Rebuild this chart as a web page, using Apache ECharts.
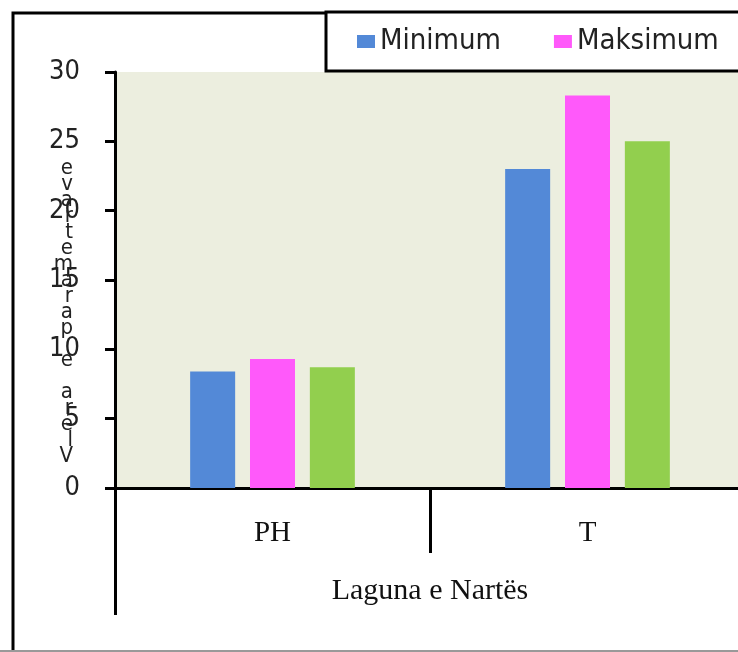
<!DOCTYPE html>
<html>
<head>
<meta charset="utf-8">
<script src="https://cdn.jsdelivr.net/npm/echarts@6/dist/echarts.min.js"></script>
<style>
html,body{margin:0;padding:0;background:#fff;overflow:hidden;width:738px;height:652px;}
#c{width:1000px;height:652px;}
</style>
</head>
<body>
<div id="c"></div>
<script>
var categories = ['PH', 'T'];
var groupLabel = ['Laguna e Nartës'];
var seriesNames = ['Minimum', 'Maksimum', 'Mesatare'];
var minimum = [8.4, 23.0];
var maksimum = [9.3, 28.3];
var mesatare = [8.7, 25.0];
var yMin = 0, yMax = 30, yStep = 5;
var yTitle = 'Vlera e parametrave';
var colors = ['#5389D7', '#FF59FA', '#92CF4E'];

var chart = echarts.init(document.getElementById('c'), null, {renderer: 'canvas'});
var tickFont = 'DejaVu Sans Condensed, Liberation Sans Narrow, DejaVu Sans, sans-serif';
var serifFont = 'Liberation Serif, DejaVu Serif, serif';
var values = [minimum, maksimum, mesatare];

chart.setOption({
  animation: false,
  color: colors,
  graphic: [
    {type: 'rect', z: -1, shape: {x: 13, y: 13, width: 1200, height: 800},
     style: {fill: 'none', stroke: '#000', lineWidth: 3}},
    {type: 'line', z: -1, shape: {x1: 0, y1: 651, x2: 1000, y2: 651},
     style: {stroke: '#999', lineWidth: 2}}
  ],
  legend: {
    left: 326, top: 12,
    padding: [15, 20, 15, 31],
    borderColor: '#000', borderWidth: 3,
    backgroundColor: '#fff',
    itemWidth: 18, itemHeight: 13, itemGap: 53,
    icon: 'rect',
    textStyle: {fontFamily: tickFont, fontSize: 29, color: '#222'},
    data: seriesNames
  },
  grid: {left: 115, right: 255, top: 72, bottom: 164, show: true,
         backgroundColor: '#ECEEDF', borderWidth: 0, containLabel: false},
  xAxis: [
    {type: 'category', data: categories, position: 'bottom',
     axisLine: {show: true, lineStyle: {color: '#000', width: 3}},
     axisTick: {show: true, interval: 0, length: 65, lineStyle: {color: '#000', width: 3}},
     axisLabel: {margin: 31, fontFamily: serifFont, fontSize: 29, color: '#111'}},
    {type: 'category', data: groupLabel, position: 'bottom',
     axisLine: {show: false},
     axisTick: {show: true, interval: 0, length: 127, lineStyle: {color: '#000', width: 3}},
     axisLabel: {margin: 88, fontFamily: serifFont, fontSize: 30, color: '#111'}}
  ],
  yAxis: {
    type: 'value', min: yMin, max: yMax, interval: yStep,
    name: '\n\n\n\n' + yTitle.split('').reverse().join('\n'),
    nameLocation: 'middle', nameRotate: 0, nameGap: 42, nameMoveOverlap: false,
    nameTextStyle: {fontFamily: tickFont, fontSize: 22, lineHeight: 16, color: '#222'},
    axisLine: {show: true, lineStyle: {color: '#000', width: 3}},
    axisTick: {show: true, length: 10, lineStyle: {color: '#000', width: 3}},
    splitLine: {show: false},
    axisLabel: {margin: 35, fontFamily: tickFont, fontSize: 27, color: '#222'}
  },
  series: seriesNames.map(function (n, i) {
    return {name: n, type: 'bar', xAxisIndex: 0, data: values[i],
            barWidth: 45, barGap: '33%'};
  })
});
</script>
</body>
</html>
